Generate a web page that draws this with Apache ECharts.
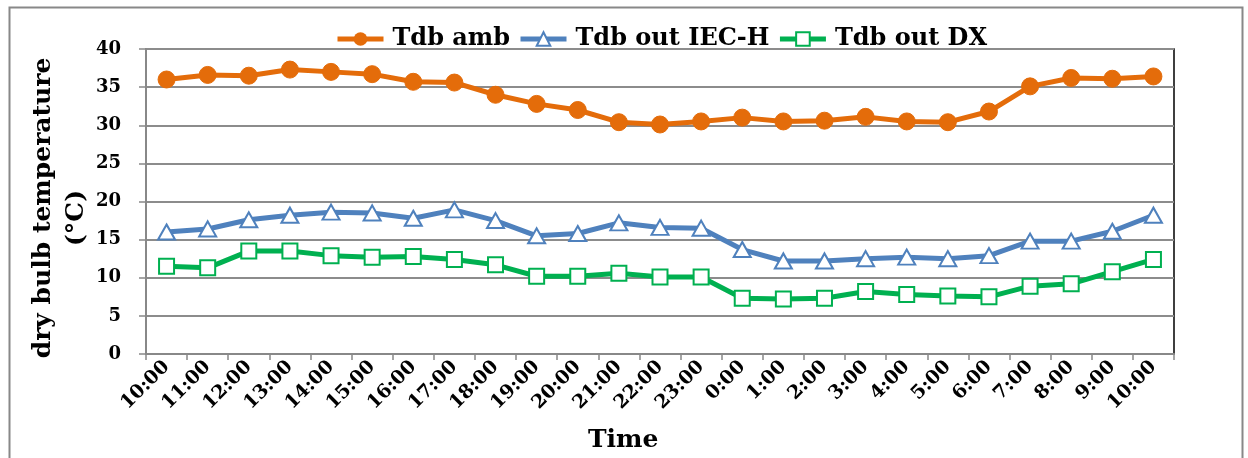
<!DOCTYPE html>
<html>
<head>
<meta charset="utf-8">
<script src="https://cdn.jsdelivr.net/npm/echarts@6/dist/echarts.min.js"></script>
<style>html,body{margin:0;padding:0;background:#fff;}#c{width:1248px;height:458px;}</style>
</head>
<body>
<div id="c"></div>
<script>
const categories = ['10:00','11:00','12:00','13:00','14:00','15:00','16:00','17:00','18:00','19:00','20:00','21:00','22:00','23:00','0:00','1:00','2:00','3:00','4:00','5:00','6:00','7:00','8:00','9:00','10:00'];
const tdbAmb = [36.0,36.6,36.5,37.3,37.0,36.7,35.7,35.6,34.0,32.8,32.0,30.4,30.1,30.5,31.0,30.5,30.6,31.1,30.5,30.4,31.8,35.1,36.2,36.1,36.4];
const tdbIEC = [16.0,16.4,17.6,18.2,18.6,18.5,17.8,18.9,17.5,15.5,15.8,17.2,16.6,16.5,13.7,12.2,12.2,12.5,12.7,12.5,12.9,14.8,14.8,16.1,18.2];
const tdbDX = [11.5,11.3,13.5,13.5,12.9,12.7,12.8,12.4,11.7,10.2,10.2,10.6,10.1,10.1,7.3,7.2,7.3,8.2,7.8,7.6,7.5,8.9,9.2,10.8,12.4];
const seriesNames = ['Tdb amb','Tdb out IEC-H','Tdb out DX'];
const yTicks = {min:0, max:40, interval:5};

const FONT = 'DejaVu Serif';
const chart = echarts.init(document.getElementById('c'), null, {renderer:'canvas'});
chart.setOption({
  animation:false,
  backgroundColor:'#fff',
  graphic:[
    {type:'rect', left:7, top:5, shape:{width:1233, height:470}, style:{fill:'none', stroke:'#888', lineWidth:2}, z:-1},
    {type:'text', left:588, top:428, style:{text:'Time', font:'bold 25px "'+FONT+'"', fill:'#000'}},
    {type:'text', x:31, y:208, rotation:Math.PI/2, style:{text:'dry bulb temperature', font:'bold 25px "'+FONT+'"', fill:'#000', align:'center', verticalAlign:'top'}},
    {type:'text', x:64, y:218, rotation:Math.PI/2, style:{text:'(°C)', font:'bold 25px "'+FONT+'"', fill:'#000', align:'center', verticalAlign:'top'}}
  ],
  legend:{
    top:22, left:330, itemWidth:46, itemHeight:17, itemGap:8,
    lineStyle:{width:5},
    textStyle:{fontFamily:FONT, fontWeight:'bold', fontSize:24, color:'#000', padding:[0,0,0,4]},
    data:seriesNames
  },
  grid:{left:146, right:74, top:49, bottom:104, show:true, borderColor:'#000', borderWidth:1.5, backgroundColor:'transparent'},
  xAxis:{
    type:'category', data:categories, boundaryGap:true,
    axisLine:{lineStyle:{color:'#888', width:2}},
    axisTick:{show:true, length:6, alignWithLabel:false, lineStyle:{color:'#888', width:1.5}},
    axisLabel:{rotate:45, interval:0, margin:10, fontFamily:FONT, fontWeight:'bold', fontSize:19, color:'#000'},
    splitLine:{show:false}
  },
  yAxis:{
    type:'value', min:yTicks.min, max:yTicks.max, interval:yTicks.interval,
    axisLine:{show:true, lineStyle:{color:'#888', width:2}},
    axisTick:{show:true, length:7, lineStyle:{color:'#888', width:1.5}},
    axisLabel:{margin:25, fontFamily:FONT, fontWeight:'bold', fontSize:18, color:'#000'},
    splitLine:{show:true, lineStyle:{color:'#8c8c8c', width:2}}
  },
  series:[
    {name:seriesNames[0], type:'line', data:tdbAmb, symbol:'circle', symbolSize:17,
     lineStyle:{color:'#E46C0A', width:5}, itemStyle:{color:'#E46C0A', borderColor:'#E46C0A'}, z:3},
    {name:seriesNames[1], type:'line', data:tdbIEC, symbol:'triangle', symbolSize:[17,15],
     lineStyle:{color:'#4F81BD', width:5}, itemStyle:{color:'#fff', borderColor:'#4F81BD', borderWidth:2}, z:4},
    {name:seriesNames[2], type:'line', data:tdbDX, symbol:'rect', symbolSize:15,
     lineStyle:{color:'#00B050', width:5}, itemStyle:{color:'#fff', borderColor:'#00B050', borderWidth:2}, z:5}
  ]
});
</script>
</body>
</html>
